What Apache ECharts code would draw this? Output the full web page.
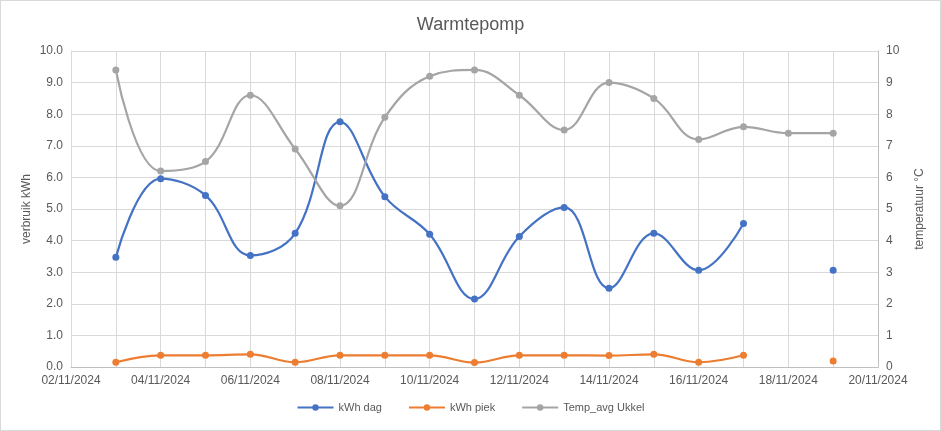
<!DOCTYPE html>
<html lang="nl" style="height: 100%">
<head>
  <meta charset="utf-8">
</head>
<body style="height: 100%; margin: 0">
  <div id="container" style="width: 939px; height: 429px; border: 1px solid #d9d9d9; background: #fff"></div>

  <script type="text/javascript" src="https://cdn.jsdelivr.net/npm/echarts@6/dist/echarts.min.js"></script>

  <script type="text/javascript">
    // dagen 02/11 t/m 20/11, labels om de twee dagen
    var dates = ['02/11/2024', '03/11/2024', '04/11/2024', '05/11/2024', '06/11/2024',
      '07/11/2024', '08/11/2024', '09/11/2024', '10/11/2024', '11/11/2024', '12/11/2024',
      '13/11/2024', '14/11/2024', '15/11/2024', '16/11/2024', '17/11/2024', '18/11/2024',
      '19/11/2024', '20/11/2024'];
    var kwhDag = [null, 3.47, 5.96, 5.43, 3.53, 4.23, 7.76, 5.39, 4.2, 2.15, 4.13,
      5.05, 2.49, 4.23, 3.06, 4.54, null, 3.06, null];
    var kwhPiek = [null, 0.15, 0.37, 0.37, 0.4, 0.15, 0.37, 0.37, 0.37, 0.14, 0.37,
      0.37, 0.36, 0.4, 0.15, 0.37, null, 0.19, null];
    var tempUkkel = [null, 9.4, 6.2, 6.5, 8.6, 6.9, 5.1, 7.9, 9.2, 9.4, 8.6,
      7.5, 9.0, 8.5, 7.2, 7.6, 7.4, 7.4, null];

    var dom = document.getElementById('container');
    var myChart = echarts.init(dom, null, { renderer: 'canvas' });
    var textColor = '#595959';
    var font = 'Liberation Sans';

    function lineSeries(name, data, color, yAxisIndex) {
      return {
        name: name,
        type: 'line',
        yAxisIndex: yAxisIndex,
        data: data,
        smooth: 0.4,
        symbol: 'circle',
        symbolSize: 7,
        showAllSymbol: true,
        itemStyle: { color: color },
        lineStyle: { color: color, width: 2.2 }
      };
    }

    var option = {
      animation: false,
      textStyle: { fontFamily: font },
      title: {
        text: 'Warmtepomp',
        left: 'center',
        top: 10,
        textStyle: { color: textColor, fontSize: 18, fontWeight: 'normal', fontFamily: font }
      },
      legend: {
        bottom: 12,
        left: 'center',
        itemWidth: 36,
        itemHeight: 8,
        itemGap: 26,
        textStyle: { color: textColor, fontSize: 11 },
        data: ['kWh dag', 'kWh piek', 'Temp_avg Ukkel']
      },
      grid: { left: 70, right: 62, top: 50, bottom: 63 },
      xAxis: {
        type: 'category',
        data: dates,
        boundaryGap: false,
        axisLine: { lineStyle: { color: '#bfbfbf' } },
        axisTick: { show: false },
        axisLabel: { interval: 1, color: textColor, fontSize: 12, margin: 8 },
        splitLine: { show: true, interval: 0, lineStyle: { color: '#d9d9d9' } }
      },
      yAxis: [
        {
          type: 'value',
          min: 0,
          max: 10,
          interval: 1,
          name: 'verbruik kWh',
          nameLocation: 'middle',
          nameGap: 38,
          nameMoveOverlap: false,
          nameTextStyle: { color: textColor, fontSize: 12 },
          axisLine: { show: true, lineStyle: { color: '#d9d9d9' } },
          axisLabel: {
            color: textColor,
            fontSize: 12,
            formatter: function (v) { return v.toFixed(1); }
          },
          splitLine: { lineStyle: { color: '#d9d9d9' } }
        },
        {
          type: 'value',
          min: 0,
          max: 10,
          interval: 1,
          name: 'temperatuur °C',
          nameLocation: 'middle',
          nameGap: 36,
          nameTextStyle: { color: textColor, fontSize: 12 },
          axisLine: { show: true, lineStyle: { color: '#bfbfbf' } },
          axisLabel: { color: textColor, fontSize: 12 },
          splitLine: { show: false }
        }
      ],
      series: [
        lineSeries('kWh dag', kwhDag, '#4472C4', 0),
        lineSeries('kWh piek', kwhPiek, '#ED7D31', 0),
        lineSeries('Temp_avg Ukkel', tempUkkel, '#A5A5A5', 1)
      ]
    };

    myChart.setOption(option);
    window.addEventListener('resize', myChart.resize);
  </script>
</body>
</html>
